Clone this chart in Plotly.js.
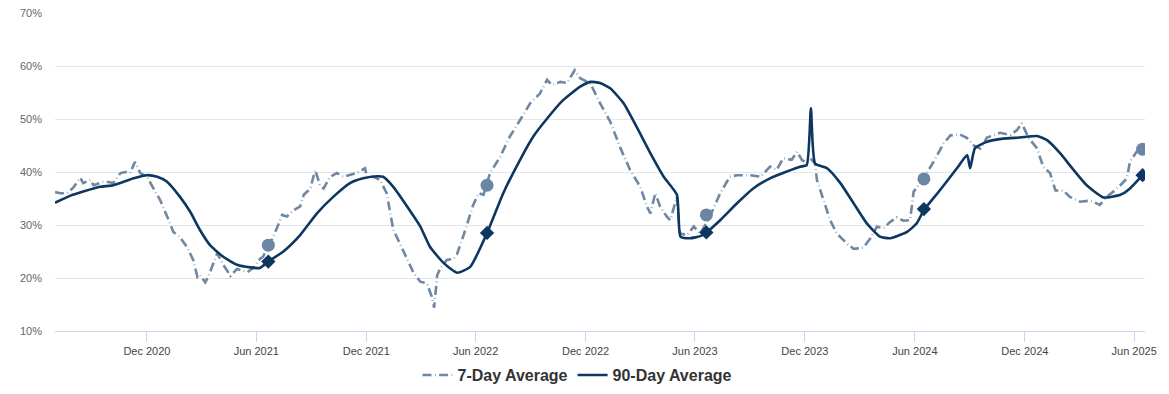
<!DOCTYPE html>
<html>
<head>
<meta charset="utf-8">
<script src="https://cdn.plot.ly/plotly-3.0.1.min.js"></script>
<style>html,body{margin:0;padding:0;background:#fff;}#chart{width:1169px;height:394px;}</style>
</head>
<body>
<div id="chart"></div>
<script>
// 7-Day Average (%)
const dates7 = ["2020-07-01","2020-07-10","2020-07-21","2020-07-31","2020-08-12","2020-08-17","2020-08-29","2020-09-03","2020-09-18","2020-09-28","2020-10-06","2020-10-18","2020-10-26","2020-11-03","2020-11-11","2020-11-20","2020-12-01","2020-12-11","2020-12-23","2021-01-04","2021-01-14","2021-01-25","2021-02-06","2021-02-16","2021-02-23","2021-02-27","2021-03-08","2021-03-13","2021-03-21","2021-03-28","2021-04-07","2021-04-19","2021-04-30","2021-05-10","2021-05-17","2021-05-27","2021-06-07","2021-06-12","2021-06-24","2021-07-06","2021-07-14","2021-07-22","2021-08-02","2021-08-13","2021-08-19","2021-08-30","2021-09-07","2021-09-15","2021-09-21","2021-10-02","2021-10-13","2021-10-24","2021-11-04","2021-11-15","2021-11-29","2021-12-02","2021-12-13","2021-12-24","2022-01-04","2022-01-15","2022-01-26","2022-02-07","2022-02-18","2022-03-01","2022-03-12","2022-03-20","2022-03-24","2022-03-29","2022-04-03","2022-04-14","2022-04-25","2022-05-01","2022-05-12","2022-05-28","2022-06-06","2022-06-14","2022-06-25","2022-07-12","2022-07-28","2022-08-14","2022-08-31","2022-09-16","2022-09-28","2022-10-06","2022-10-20","2022-10-31","2022-11-13","2022-11-22","2022-12-09","2022-12-25","2023-01-11","2023-01-28","2023-02-13","2023-03-02","2023-03-13","2023-03-19","2023-03-27","2023-04-04","2023-04-15","2023-04-21","2023-04-29","2023-05-02","2023-05-07","2023-05-19","2023-05-30","2023-06-10","2023-06-26","2023-07-13","2023-07-29","2023-08-10","2023-09-01","2023-09-18","2023-10-04","2023-10-15","2023-10-26","2023-11-09","2023-11-18","2023-11-26","2023-12-01","2023-12-10","2023-12-18","2023-12-21","2024-01-01","2024-01-12","2024-01-23","2024-02-09","2024-02-20","2024-03-07","2024-03-19","2024-03-30","2024-04-10","2024-04-21","2024-05-02","2024-05-13","2024-05-24","2024-05-30","2024-06-15","2024-07-02","2024-07-19","2024-07-30","2024-08-15","2024-08-27","2024-09-07","2024-09-18","2024-09-29","2024-10-21","2024-11-07","2024-11-18","2024-11-26","2024-12-07","2024-12-21","2025-01-01","2025-01-12","2025-01-21","2025-02-03","2025-02-14","2025-03-03","2025-03-20","2025-04-05","2025-04-16","2025-05-03","2025-05-20","2025-05-25","2025-06-05","2025-06-15"];
const avg7 = [36.2,36.0,36.0,37.0,38.9,37.9,38.5,37.5,38.1,38.1,37.9,39.8,40.0,39.8,41.9,39.8,39.1,37.2,34.7,31.5,28.7,27.7,25.8,23.4,20.2,20.6,19.2,20.2,22.8,24.7,22.5,20.4,21.7,21.3,21.1,21.9,23.6,24.0,26.5,29.6,31.9,31.6,32.8,33.5,35.7,36.9,40.4,37.5,36.9,39.1,39.8,39.1,39.4,39.8,40.7,39.1,39.1,38.5,36.0,29.1,26.5,23.7,20.9,19.3,19.0,16.5,14.4,20.5,21.8,23.4,23.6,24.5,28.1,33.8,36.0,35.7,39.8,42.9,46.7,49.8,53.0,54.8,57.4,56.4,57.0,56.8,59.2,57.7,56.7,53.0,49.5,44.5,40.4,37.2,33.5,32.2,36.0,33.5,31.6,30.9,34.1,35.3,28.4,28.1,29.7,28.4,31.6,36.0,39.1,39.4,39.4,39.1,41.0,40.4,42.6,42.3,43.8,42.3,41.9,42.6,41.6,38.5,34.7,30.9,28.4,26.5,25.5,25.7,27.5,29.7,29.4,30.6,31.4,30.8,30.9,36.3,38.7,41.9,45.4,46.9,47.1,46.4,45.0,44.4,46.5,47.4,47.0,47.9,49.2,46.5,44.5,40.9,39.8,36.5,36.5,35.3,34.4,34.6,33.8,35.3,36.8,38.8,42.0,43.8,44.3];

// 90-Day Average (%)
const dates90 = ["2020-07-01","2020-07-26","2020-08-17","2020-09-14","2020-10-06","2020-11-09","2020-12-01","2020-12-18","2021-01-03","2021-01-25","2021-02-11","2021-02-27","2021-03-16","2021-04-07","2021-04-30","2021-05-22","2021-06-07","2021-06-21","2021-07-16","2021-08-13","2021-09-10","2021-10-07","2021-11-04","2021-11-26","2021-12-19","2021-12-29","2022-01-15","2022-02-07","2022-03-01","2022-03-17","2022-04-09","2022-05-01","2022-05-23","2022-06-20","2022-07-17","2022-08-14","2022-09-05","2022-09-28","2022-10-25","2022-11-22","2022-12-09","2022-12-25","2023-01-11","2023-02-02","2023-02-24","2023-03-19","2023-04-10","2023-05-02","2023-05-08","2023-05-24","2023-06-10","2023-06-20","2023-07-13","2023-08-10","2023-09-06","2023-10-04","2023-11-01","2023-11-23","2023-12-04","2023-12-11","2023-12-18","2024-01-07","2024-01-29","2024-02-20","2024-03-13","2024-04-04","2024-04-21","2024-05-19","2024-06-04","2024-06-16","2024-07-13","2024-08-10","2024-08-27","2024-09-01","2024-09-09","2024-09-29","2024-10-26","2024-11-23","2024-12-21","2025-01-07","2025-01-29","2025-02-20","2025-03-14","2025-04-11","2025-05-09","2025-05-25","2025-06-15"];
const avg90 = [34.2,35.5,36.3,37.2,37.5,38.8,39.4,39.1,38.2,35.3,32.5,29.1,26.2,24.0,22.5,22.0,21.9,23.1,25.0,28.1,32.2,35.3,37.9,38.8,39.2,39.1,37.2,33.5,29.7,25.9,22.8,21.0,22.1,28.5,36.0,42.3,46.7,50.1,53.6,56.1,57.0,56.8,55.8,53.0,48.5,43.5,39.1,35.7,27.8,27.5,27.9,28.6,30.9,34.1,36.9,38.8,40.1,41.0,41.3,52.0,41.6,40.7,37.9,34.1,30.3,27.8,27.5,28.7,30.3,32.8,36.6,40.7,43.2,40.7,44.5,45.7,46.3,46.5,46.8,46.0,43.5,40.4,37.5,35.2,35.7,36.9,39.4];

// Annual June highlight points
const markerDates = ["2021-06-21","2022-06-20","2023-06-20","2024-06-16","2025-06-15"];
const marker7 = [26.2,37.5,31.9,38.7,44.3];
const marker90 = [23.1,28.5,28.6,33.0,39.4];

const tickDates = ["2020-12-01","2021-06-01","2021-12-01","2022-06-01","2022-12-01","2023-06-01","2023-12-01","2024-06-01","2024-12-01","2025-06-01"];
const tickLabels = ["Dec 2020","Jun 2021","Dec 2021","Jun 2022","Dec 2022","Jun 2023","Dec 2023","Jun 2024","Dec 2024","Jun 2025"];
const yTicks = [10,20,30,40,50,60,70];
const yTickLabels = ["10%","20%","30%","40%","50%","60%","70%"];

const c7 = "#6f87a1";
const c90 = "#0c3760";

const traces = [
  {x: dates7, y: avg7, type: "scatter", mode: "lines", name: "7-Day Average",
   line: {color: c7, width: 2.6, dash: "9px,3.5px,0.6px,3.5px"}, hoverinfo: "x+y"},
  {x: dates90, y: avg90, type: "scatter", mode: "lines", name: "90-Day Average",
   line: {color: c90, width: 2.6, shape: "spline", smoothing: 0.5}, hoverinfo: "x+y"},
  {x: markerDates, y: marker7, type: "scatter", mode: "markers", showlegend: false,
   marker: {color: "#6a86a4", size: 13, symbol: "circle"}},
  {x: markerDates, y: marker90, type: "scatter", mode: "markers", showlegend: false,
   marker: {color: c90, size: 11, symbol: "diamond"}}
];

const layout = {
  width: 1169, height: 394,
  margin: {l: 55, r: 24, t: 13, b: 63},
  paper_bgcolor: "#fff", plot_bgcolor: "#fff",
  font: {family: "Liberation Sans, Arial, sans-serif", color: "#666666", size: 11},
  showlegend: true,
  legend: {orientation: "h", x: 0.494, xanchor: "center", xref: "container",
           y: 0.048, yanchor: "middle", yref: "container",
           font: {size: 16, color: "#333333", weight: "bold"}, itemwidth: 30},
  xaxis: {type: "date", range: ["2020-07-01", "2025-06-19"],
          tickvals: tickDates, ticktext: tickLabels,
          showgrid: false, zeroline: false,
          showline: true, linecolor: "#ccd6eb", linewidth: 1,
          ticks: "outside", ticklen: 10, tickcolor: "#ccd6eb",
          tickfont: {size: 11, color: "#444444"}, fixedrange: true},
  yaxis: {range: [10, 70], tickvals: yTicks, ticktext: yTickLabels,
          showgrid: true, gridcolor: "#e6e6e6", gridwidth: 1, zeroline: false,
          showline: false, ticks: "", tickfont: {size: 11, color: "#666666"},
          ticklabelstandoff: 12, fixedrange: true}
};

Plotly.newPlot("chart", traces, layout, {displayModeBar: false, staticPlot: true});
</script>
</body>
</html>
